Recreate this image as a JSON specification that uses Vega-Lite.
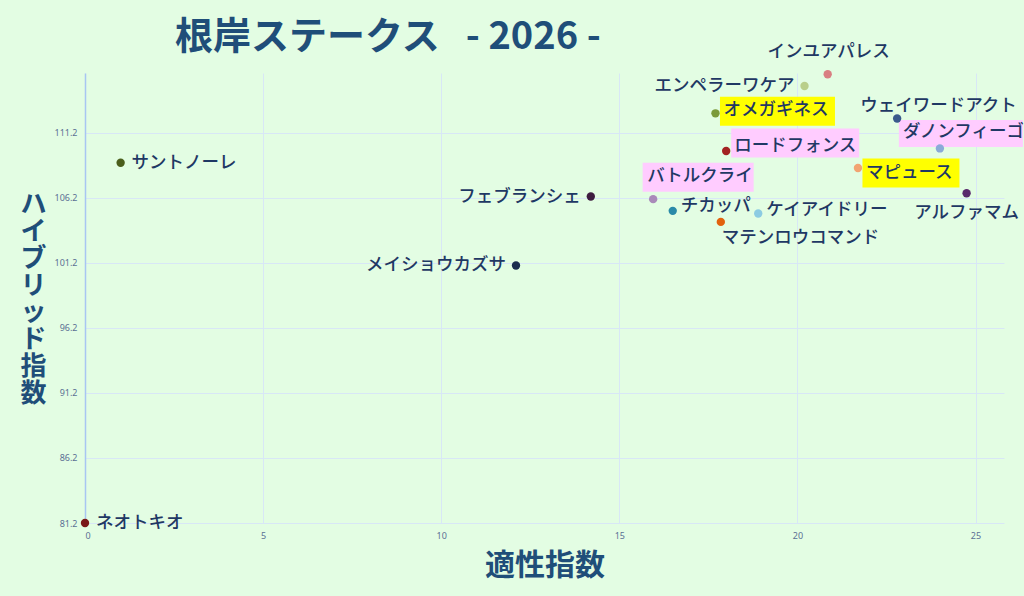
{
  "$schema": "https://vega.github.io/schema/vega-lite/v6.json",
  "width": 919,
  "height": 450,
  "autosize": {"type": "none"},
  "padding": {"left": 85, "top": 73, "right": 20, "bottom": 73},
  "background": "#e3fde3",
  "title": {
    "text": "根岸ステークス\u00a0\u00a0\u00a0- 2026 -",
    "anchor": "start",
    "frame": "group",
    "dx": 90,
    "offset": -14,
    "fontSize": 38,
    "font": "Noto Sans CJK JP",
    "fontWeight": "bold",
    "color": "#1f4e79"
  },
  "config": {
    "view": {"stroke": null},
    "font": "Noto Sans CJK JP",
    "text": {"font": "Noto Sans CJK JP", "fontSize": 17.5, "fontWeight": 500, "color": "#1f3864", "baseline": "middle"}
  },
  "data": {
    "values": [
      {"name": "ネオトキオ", "適性指数": 0, "ハイブリッド指数": 81.2},
      {"name": "サントノーレ", "適性指数": 1.0, "ハイブリッド指数": 108.9},
      {"name": "メイショウカズサ", "適性指数": 12.1, "ハイブリッド指数": 101.0},
      {"name": "フェブランシェ", "適性指数": 14.2, "ハイブリッド指数": 106.3},
      {"name": "インユアパレス", "適性指数": 20.85, "ハイブリッド指数": 115.7},
      {"name": "エンペラーワケア", "適性指数": 20.2, "ハイブリッド指数": 114.8},
      {"name": "オメガギネス", "適性指数": 17.7, "ハイブリッド指数": 112.7},
      {"name": "ウェイワードアクト", "適性指数": 22.8, "ハイブリッド指数": 112.3},
      {"name": "ダノンフィーゴ", "適性指数": 24.0, "ハイブリッド指数": 110.0},
      {"name": "ロードフォンス", "適性指数": 18.0, "ハイブリッド指数": 109.8},
      {"name": "マピュース", "適性指数": 21.7, "ハイブリッド指数": 108.5},
      {"name": "アルファマム", "適性指数": 24.75, "ハイブリッド指数": 106.55},
      {"name": "バトルクライ", "適性指数": 15.95, "ハイブリッド指数": 106.1},
      {"name": "チカッパ", "適性指数": 16.5, "ハイブリッド指数": 105.2},
      {"name": "ケイアイドリー", "適性指数": 18.9, "ハイブリッド指数": 105.0},
      {"name": "マテンロウコマンド", "適性指数": 17.85, "ハイブリッド指数": 104.35}
    ]
  },
  "encoding": {
    "x": {
      "field": "適性指数",
      "type": "quantitative",
      "scale": {"domain": [0, 25.8], "nice": false, "zero": false},
      "axis": {
        "title": "適性指数",
        "values": [0, 5, 10, 15, 20, 25],
        "domain": false,
        "ticks": false,
        "grid": true,
        "gridColor": "#d8e7f6",
        "gridWidth": 1,
        "labelFontSize": 9,
        "labelColor": "#5b7094",
        "labelFont": "Noto Sans",
        "labelPadding": 8,
        "titleFontSize": 30,
        "titleFontWeight": "bold",
        "titleColor": "#1f4e79",
        "titleFont": "Noto Sans CJK JP",
        "titleY": 42,
        "titleBaseline": "middle"
      }
    },
    "y": {
      "field": "ハイブリッド指数",
      "type": "quantitative",
      "scale": {"domain": [81.2, 115.8], "nice": false, "zero": false},
      "axis": {
        "title": ["ハ", "イ", "ブ", "リ", "ッ", "ド", "指", "数"],
        "values": [81.2, 86.2, 91.2, 96.2, 101.2, 106.2, 111.2],
        "format": ".1f",
        "domain": true,
        "domainColor": "#a8c6f2",
        "domainWidth": 1.5,
        "ticks": false,
        "grid": true,
        "gridColor": "#d8e7f6",
        "gridWidth": 1,
        "labelFontSize": 9,
        "labelColor": "#5b7094",
        "labelFont": "Noto Sans",
        "labelPadding": 8,
        "titleFontSize": 26,
        "titleFontWeight": "bold",
        "titleColor": "#1f4e79",
        "titleFont": "Noto Sans CJK JP",
        "titleAngle": 0,
        "titleAlign": "center",
        "titleBaseline": "middle",
        "titleLineHeight": 27,
        "titleX": -52,
        "titleY": 131
      }
    }
  },
  "layer": [
    {
      "transform": [{"filter": "datum.name === 'オメガギネス'"}],
      "mark": {"type": "rect", "color": "#ffff00", "width": 115, "height": 29, "xOffset": 62, "yOffset": -2}
    },
    {
      "transform": [{"filter": "datum.name === 'マピュース'"}],
      "mark": {"type": "rect", "color": "#ffff00", "width": 97, "height": 29, "xOffset": 53, "yOffset": 5}
    },
    {
      "transform": [{"filter": "datum.name === 'ロードフォンス'"}],
      "mark": {"type": "rect", "color": "#ffccff", "width": 128, "height": 29, "xOffset": 69, "yOffset": -8}
    },
    {
      "transform": [{"filter": "datum.name === 'ダノンフィーゴ'"}],
      "mark": {"type": "rect", "color": "#ffccff", "width": 124, "height": 27, "xOffset": 21, "yOffset": -15}
    },
    {
      "transform": [{"filter": "datum.name === 'バトルクライ'"}],
      "mark": {"type": "rect", "color": "#ffccff", "width": 111, "height": 29, "xOffset": 45, "yOffset": -22}
    },
    {
      "mark": {"type": "point", "filled": true, "opacity": 1, "size": 70},
      "encoding": {
        "color": {
          "field": "name",
          "type": "nominal",
          "legend": null,
          "scale": {
            "domain": ["ネオトキオ", "サントノーレ", "メイショウカズサ", "フェブランシェ", "インユアパレス", "エンペラーワケア", "オメガギネス", "ウェイワードアクト", "ダノンフィーゴ", "ロードフォンス", "マピュース", "アルファマム", "バトルクライ", "チカッパ", "ケイアイドリー", "マテンロウコマンド"],
            "range": ["#7a1818", "#4b5e1c", "#1a2c4e", "#3e1c40", "#d97f82", "#b9cf8a", "#7b9a3a", "#3a5a8c", "#8aaad8", "#a32222", "#f2a472", "#5a2a6c", "#a98ab9", "#2a8aa8", "#8ccbe2", "#e2620e"]
          }
        }
      }
    },
    {
      "transform": [{"filter": {"field": "name", "oneOf": ["ネオトキオ", "サントノーレ"]}}],
      "mark": {"type": "text", "align": "left", "dx": 11, "dy": 0},
      "encoding": {"text": {"field": "name"}}
    },
    {
      "transform": [{"filter": {"field": "name", "oneOf": ["オメガギネス", "ケイアイドリー"]}}],
      "mark": {"type": "text", "align": "left", "dx": 8, "dy": -3},
      "encoding": {"text": {"field": "name"}}
    },
    {
      "transform": [{"filter": {"field": "name", "oneOf": ["ロードフォンス", "チカッパ"]}}],
      "mark": {"type": "text", "align": "left", "dx": 8, "dy": -5},
      "encoding": {"text": {"field": "name"}}
    },
    {
      "transform": [{"filter": {"field": "name", "oneOf": ["マピュース"]}}],
      "mark": {"type": "text", "align": "left", "dx": 8, "dy": 5},
      "encoding": {"text": {"field": "name"}}
    },
    {
      "transform": [{"filter": {"field": "name", "oneOf": ["エンペラーワケア", "フェブランシェ", "メイショウカズサ"]}}],
      "mark": {"type": "text", "align": "right", "dx": -10, "dy": 0},
      "encoding": {"text": {"field": "name"}}
    },
    {
      "transform": [{"filter": {"field": "name", "oneOf": ["インユアパレス"]}}],
      "mark": {"type": "text", "align": "center", "dx": 1, "dy": -22},
      "encoding": {"text": {"field": "name"}}
    },
    {
      "transform": [{"filter": {"field": "name", "oneOf": ["ウェイワードアクト"]}}],
      "mark": {"type": "text", "align": "left", "dx": -37, "dy": -13},
      "encoding": {"text": {"field": "name"}}
    },
    {
      "transform": [{"filter": {"field": "name", "oneOf": ["ダノンフィーゴ"]}}],
      "mark": {"type": "text", "align": "left", "dx": -37, "dy": -16},
      "encoding": {"text": {"field": "name"}}
    },
    {
      "transform": [{"filter": {"field": "name", "oneOf": ["アルファマム"]}}],
      "mark": {"type": "text", "align": "center", "dx": 0, "dy": 20},
      "encoding": {"text": {"field": "name"}}
    },
    {
      "transform": [{"filter": {"field": "name", "oneOf": ["バトルクライ"]}}],
      "mark": {"type": "text", "align": "left", "dx": -6, "dy": -23},
      "encoding": {"text": {"field": "name"}}
    },
    {
      "transform": [{"filter": {"field": "name", "oneOf": ["マテンロウコマンド"]}}],
      "mark": {"type": "text", "align": "left", "dx": 1, "dy": 16},
      "encoding": {"text": {"field": "name"}}
    }
  ]
}
